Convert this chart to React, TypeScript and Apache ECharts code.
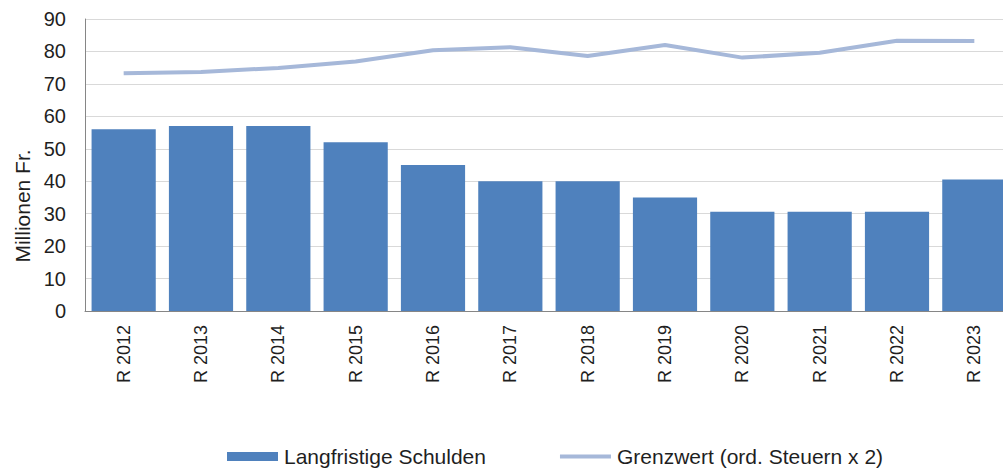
import React, { useEffect, useRef } from "react";
import * as echarts from "echarts";

const categories = ["R 2012", "R 2013", "R 2014", "R 2015", "R 2016", "R 2017", "R 2018", "R 2019", "R 2020", "R 2021", "R 2022", "R 2023"];
const schulden = [56.0, 57.0, 57.0, 52.0, 45.0, 40.0, 40.0, 35.0, 30.6, 30.6, 30.6, 40.5];
const grenzwert = [73.3, 73.7, 74.9, 76.9, 80.4, 81.3, 78.6, 82.0, 78.1, 79.6, 83.3, 83.2];
const yTicks = { min: 0, max: 90, interval: 10 };

const FONT = "'Liberation Sans', Arial, sans-serif";
const TEXT = "#1f1f1f";

export default function App() {
  const ref = useRef<HTMLDivElement>(null);
  useEffect(() => {
    if (!ref.current) return;
    const chart = echarts.init(ref.current, null, { renderer: "svg" });
    chart.setOption({
      animation: false,
      textStyle: { fontFamily: FONT, color: TEXT },
      grid: { left: 85, top: 19, bottom: 157, right: 0, containLabel: false },
      legend: {
        top: 441,
        left: 222,
        itemWidth: 51,
        itemHeight: 9,
        itemGap: 74,
        textStyle: { fontFamily: FONT, fontSize: 21, color: TEXT, padding: [0, 0, 0, 1] },
        data: [
          { name: "Langfristige Schulden", icon: "rect" },
          { name: "Grenzwert (ord. Steuern x 2)", icon: "path://M0,0 L50,0 L50,4 L0,4 Z" },
        ],
      },
      graphic: [
        {
          type: "text",
          x: 22,
          y: 206,
          rotation: Math.PI / 2,
          style: {
            text: "Millionen Fr.",
            fontFamily: FONT,
            fontSize: 21,
            fill: TEXT,
            align: "center",
            verticalAlign: "middle",
          },
        },
      ],
      xAxis: {
        type: "category",
        data: categories,
        axisLine: { lineStyle: { color: "#868686", width: 1 } },
        axisTick: { show: false },
        axisLabel: { rotate: 90, fontSize: 18, color: TEXT, fontFamily: FONT, margin: 14 },
      },
      yAxis: {
        type: "value",
        min: yTicks.min,
        max: yTicks.max,
        interval: yTicks.interval,
        axisLine: { show: true, lineStyle: { color: "#868686", width: 1 } },
        axisTick: { show: false },
        splitLine: { lineStyle: { color: "#d9d9d9", width: 1 } },
        axisLabel: { fontSize: 20, color: TEXT, fontFamily: FONT, margin: 19 },
      },
      series: [
        {
          name: "Langfristige Schulden",
          type: "bar",
          data: schulden,
          barCategoryGap: "17%",
          itemStyle: { color: "#4f81bd" },
        },
        {
          name: "Grenzwert (ord. Steuern x 2)",
          type: "line",
          data: grenzwert,
          symbol: "none",
          lineStyle: { color: "#a6b8d9", width: 4 },
          itemStyle: { color: "#a6b8d9" },
        },
      ],
    });
    return () => chart.dispose();
  }, []);
  return (
    <div style={{ position: "absolute", left: 0, top: 0, width: 1003, height: 468, overflow: "hidden" }}>
      <div ref={ref} style={{ width: 1013, height: 468 }} />
    </div>
  );
}
